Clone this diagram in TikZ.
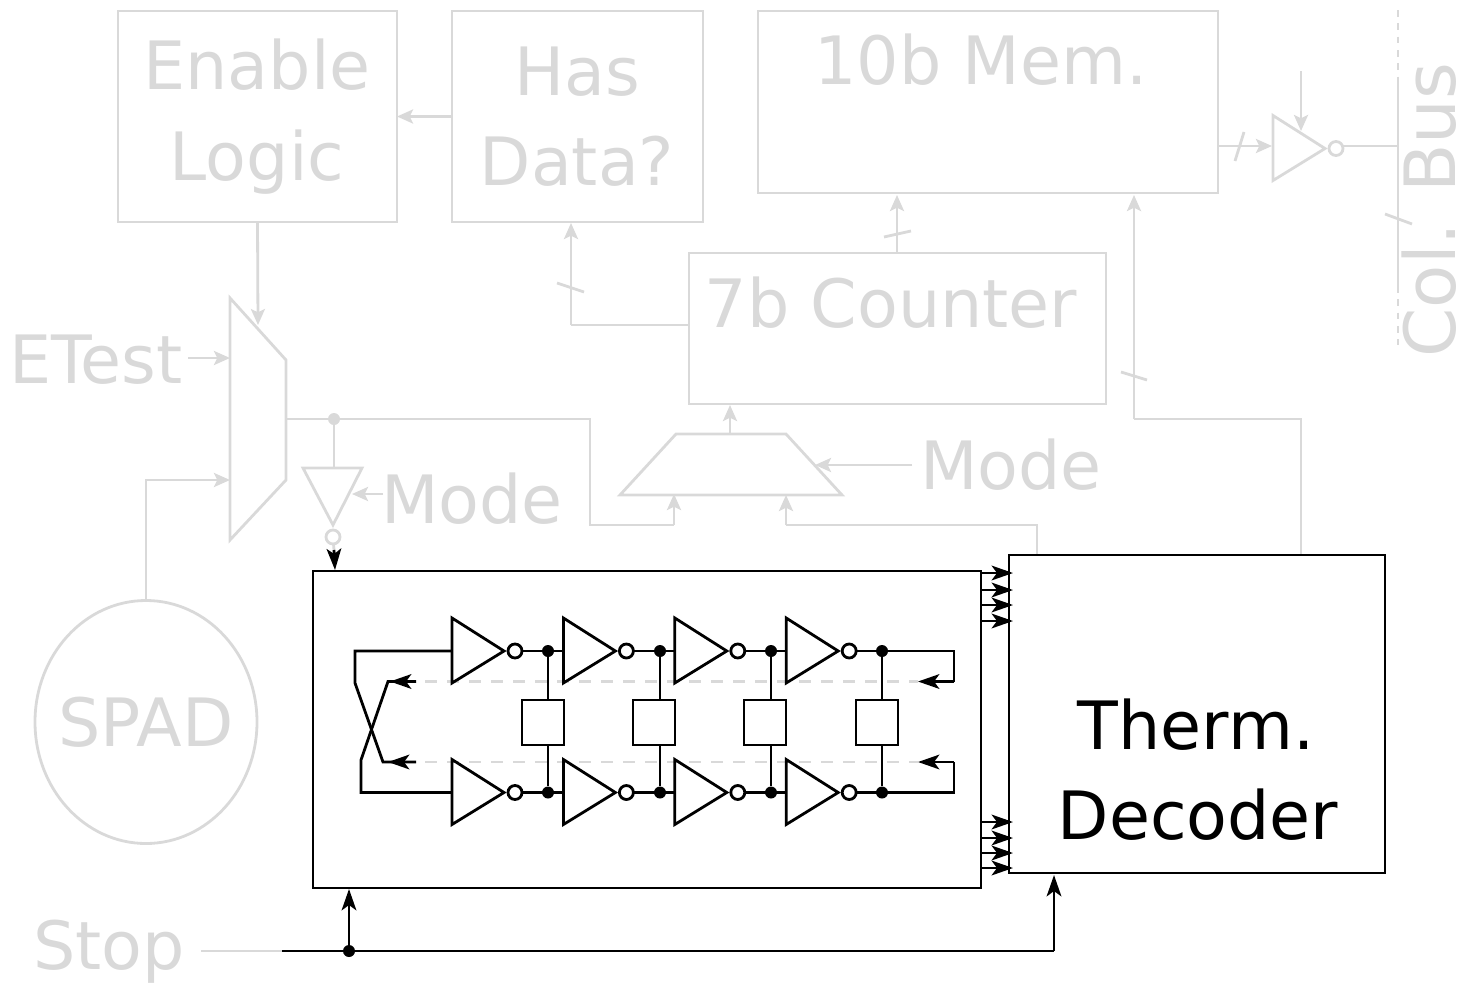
\documentclass[tikz,border=0pt]{standalone}
\usepackage{fontspec}
\setmainfont{DejaVu Sans}
\usetikzlibrary{arrows.meta,calc,shapes.geometric}
\definecolor{lite}{HTML}{D9D9D9}
\tikzset{
  wire/.style={line width=2.1pt,line join=miter},
  litew/.style={wire,draw=lite},
  blackw/.style={wire,draw=black},
  gtip/.style={-{Stealth[length=12pt,width=10.5pt,inset=2.5pt]}},
  ktip/.style={-{Stealth[length=16pt,width=11pt,inset=4pt]}},
  gbox/.style={draw=lite,line width=2.1pt,inner sep=0pt,outer sep=0pt,rectangle},
  kbox/.style={draw=black,line width=2.1pt,inner sep=0pt,outer sep=0pt,rectangle,fill=white},
  lbl/.style={font=\fontsize{50}{50}\selectfont,text=lite,anchor=base,inner sep=0pt},
  klbl/.style={lbl,text=black},
  buslbl/.style={lbl,font=\fontsize{53}{53}\selectfont,rotate=90},
  gdot/.style={circle,fill=lite,inner sep=0pt,minimum size=9pt},
  kdot/.style={circle,fill=black,inner sep=0pt,minimum size=9pt},
  dash1/.style={wire,draw=lite,dash pattern=on 9pt off 7.5pt},
  inv/.pic={
    \draw[wire,pic actions] (0,-33) -- (0,32) -- (52,0) -- cycle;
    \draw[wire,pic actions] (63,0) circle [radius=7];
    \coordinate (-in) at (0,0);
    \coordinate (-out) at (70,0);
  }
}
\begin{document}
\begin{tikzpicture}[x=0.75pt,y=-0.75pt]
\useasboundingbox (0,0) rectangle (1460,989);
% grey boxes
\node[gbox,minimum width=279*0.75pt,minimum height=211*0.75pt] (enable) at (257.5,116.5) {};
\node[gbox,minimum width=251*0.75pt,minimum height=211*0.75pt] (hasdata) at (577.5,116.5) {};
\node[gbox,minimum width=460*0.75pt,minimum height=182*0.75pt] (mem) at (988,102) {};
\node[gbox,minimum width=417*0.75pt,minimum height=151*0.75pt] (counter) at (897.5,328.5) {};
\node[draw=lite,line width=2.1pt,ellipse,inner sep=0pt,outer sep=0pt,minimum width=222*0.75pt,minimum height=243*0.75pt] (spad) at (146,722) {};
% labels
\node[lbl] (tEnable) at (257,89) {Enable};
\node[lbl] (tLogic) at (257,180) {Logic};
\node[lbl] (tHas) at (577,95) {Has};
\node[lbl] (tData) at (577,185) {Data?};
\node[lbl] (tMem) at (981,84) {10b Mem.};
\node[lbl] (tCounter) at (891,327) {7b Counter};
\node[lbl] (tETest) at (96,383) {ETest};
\node[lbl] (tModeA) at (472,523) {Mode};
\node[lbl] (tModeB) at (1011,489) {Mode};
\node[lbl] (tSpad) at (146,746) {SPAD};
\node[lbl] (tStop) at (109,969) {Stop};
\node[buslbl] (tBus) at (1455,210) {Col. Bus};
% muxes
\coordinate (m1) at (230,298); \coordinate (m2) at (286,360);
\coordinate (m3) at (286,480); \coordinate (m4) at (230,540);
\draw[litew] (m1) -- (m2) -- (m3) -- (m4) -- cycle;
\coordinate (h1) at (620,495); \coordinate (h2) at (842,495);
\coordinate (h3) at (786,434); \coordinate (h4) at (676,434);
\draw[litew] (h1) -- (h2) -- (h3) -- (h4) -- cycle;
% grey wiring
\draw[litew,gtip] (enable.south) -- (258,325);
\draw[litew,gtip] (hasdata.west) -- (enable.east);
\coordinate (etestin) at (188,358); \coordinate (etestto) at (230,358);
\draw[litew,gtip] (etestin) -- (etestto);
\coordinate (spadto) at (230,480);
\draw[litew,gtip] (spad.north) |- (spadto);
\coordinate (muxout) at (286,419);
\node[gdot] (fork) at (334,419) {};
\coordinate (t1) at (590,419); \coordinate (t2) at (590,525); \coordinate (t3) at (674,525); \coordinate (t4) at (674,494);
\draw[litew] (muxout) -- (t1) -- (t2) -- (t3);
\draw[litew,gtip] (t3) -- (t4);
% mode inverter
\coordinate (d1) at (303,468); \coordinate (d2) at (362,468); \coordinate (d3) at (333,525);
\draw[litew] (d1) -- (d2) -- (d3) -- cycle;
\node[draw=lite,line width=2.1pt,circle,inner sep=0pt,outer sep=0pt,minimum size=10.5pt] (dc) at (333,537) {};
\draw[litew] (fork) -- (334,468);
\coordinate (dmode) at (383,494); \coordinate (dmodeto) at (352,494);
\draw[litew,gtip] (dmode) -- (dmodeto);
% counter & mux 2
\coordinate (hout) at (730,434); \coordinate (hoto) at (730,405);
\draw[litew,gtip] (hout) -- (hoto);
\coordinate (mb) at (912,465); \coordinate (mbto) at (815,465);
\draw[litew,gtip] (mb) -- (mbto);
\coordinate (c1) at (571,325); \coordinate (c2) at (571,223);
\draw[litew] (counter.west |- c1) -- (c1);
\draw[litew,gtip] (c1) -- (c2);
\coordinate (k1a) at (557,283); \coordinate (k1b) at (584,292);
\draw[litew] (k1a) -- (k1b);
\coordinate (cm1) at (897,253); \coordinate (cm2) at (897,195);
\draw[litew,gtip] (cm1) -- (cm2);
\coordinate (k2a) at (884,237); \coordinate (k2b) at (911,231);
\draw[litew] (k2a) -- (k2b);
\coordinate (dm1) at (1301,555); \coordinate (dm2) at (1301,419); \coordinate (dm3) at (1134,419); \coordinate (dm4) at (1134,195);
\draw[litew] (dm1) -- (dm2) -- (dm3);
\draw[litew,gtip] (dm3) -- (dm4);
\coordinate (k3a) at (1121,372); \coordinate (k3b) at (1147,380);
\draw[litew] (k3a) -- (k3b);
\coordinate (s1) at (1037,555); \coordinate (s2) at (1037,525); \coordinate (s3) at (786,525); \coordinate (s4) at (786,495);
\draw[litew] (s1) -- (s2) -- (s3);
\draw[litew,gtip] (s3) -- (s4);
% output driver and bus
\pic[draw=lite] (drv) at (1273,148.5) {inv};
\coordinate (mo) at (1218,146); \coordinate (moto) at (1272,146);
\draw[litew,gtip] (mo) -- (moto);
\coordinate (k4a) at (1235,161); \coordinate (k4b) at (1244,132);
\draw[litew] (k4a) -- (k4b);
\coordinate (en1) at (1301,71); \coordinate (en2) at (1301,131);
\draw[litew,gtip] (en1) -- (en2);
\coordinate (b0) at (1398,10); \coordinate (b1) at (1398,83); \coordinate (b2) at (1398,286); \coordinate (b3) at (1398,345);
\coordinate (bj) at (1398,146);
\draw[litew] (1343,146) -- (bj);
\draw[litew] (b1) -- (b2);
\draw[litew,dash pattern=on 5pt off 5pt] (b0) -- (b1);
\draw[litew,dash pattern=on 5pt off 5pt] (b2) -- (b3);
\coordinate (k5a) at (1385,214); \coordinate (k5b) at (1412,224);
\draw[litew] (k5a) -- (k5b);
% black boxes
\node[kbox,minimum width=668*0.75pt,minimum height=317*0.75pt] (tdc) at (647,729.5) {};
\node[kbox,minimum width=376*0.75pt,minimum height=318*0.75pt] (dec) at (1197,714) {};
\node[klbl] (tTherm) at (1196,749) {Therm.};
\node[klbl] (tDec) at (1198,839) {Decoder};
% enable arrow into tdc
\coordinate (ea) at (334,550); \coordinate (eb) at (335,570);
\draw[litew] (dc) -- (ea);
\draw[blackw,ktip] (ea) -- (eb);
% ring: dashed feedback
\coordinate (fl1) at (425,681.5); \coordinate (fr1) at (918,681.5);
\coordinate (fl2) at (425,762); \coordinate (fr2) at (918,762);
\draw[dash1] (fl1) -- (fr1);
\draw[dash1] (fl2) -- (fr2);
% ring stages
\foreach \n/\x in {1/452,2/563.4,3/674.8,4/786.2}{
  \pic (u\n) at (\x,651) {inv};
  \pic (l\n) at (\x,792.5) {inv};
}
\foreach \n/\x/\bx in {1/548/543,2/660/654,3/771/765,4/882/877}{
  \node[kdot] (du\n) at (\x,651) {};
  \node[kdot] (dl\n) at (\x,792.5) {};
  \draw[blackw] (du\n) -- (dl\n);
  \node[kbox,minimum width=42*0.75pt,minimum height=45*0.75pt] (cap\n) at (\bx,722.5) {};
}
\foreach \n in {1,2,3}{
  \pgfmathtruncatemacro{\m}{\n+1}
  \draw[blackw] (u\n-out) -- (u\m-in);
  \draw[blackw] (l\n-out) -- (l\m-in);
}
\coordinate (ur) at (954,651); \coordinate (ud) at (954,681.5);
\coordinate (lr) at (954,792.5); \coordinate (ld) at (954,762);
\draw[blackw] (u4-out) -- (ur) -- (ud);
\draw[blackw,ktip] (ud) -- (fr1);
\draw[blackw] (l4-out) -- (lr) -- (ld);
\draw[blackw,ktip] (ld) -- (fr2);
% cross-coupled loop
\coordinate (x1) at (355,651); \coordinate (x2) at (355,683); \coordinate (x3) at (383,762);
\coordinate (x4) at (361,792.5); \coordinate (x5) at (361,760); \coordinate (x6) at (388,681.5);
\coordinate (x3t) at (416,762); \coordinate (x6t) at (416,681.5);
\draw[blackw] (u1-in) -- (x1) -- (x2) -- (x3) -- (x3t);
\draw[blackw] (l1-in) -- (x4) -- (x5) -- (x6) -- (x6t);
\draw[blackw,ktip] (x3t) -- (388,762);
\draw[blackw,ktip] (x6t) -- (390,681.5);
% TDC to decoder
\foreach \y in {573,590,605,621,822,838,853,868}{
  \draw[blackw,ktip,shorten >=-3pt] (tdc.east |- 0,\y) -- (dec.west |- 0,\y);
}
% stop
\coordinate (st0) at (201,951); \coordinate (st1) at (282,951); \coordinate (st2) at (1054,951);
\node[kdot] (stdot) at (349,951) {};
\draw[litew] (st0) -- (st1);
\draw[blackw] (st1) -- (st2);
\draw[blackw,ktip] (stdot) -- (349,889);
\draw[blackw,ktip] (st2) -- (1054,875);
\end{tikzpicture}
\end{document}
